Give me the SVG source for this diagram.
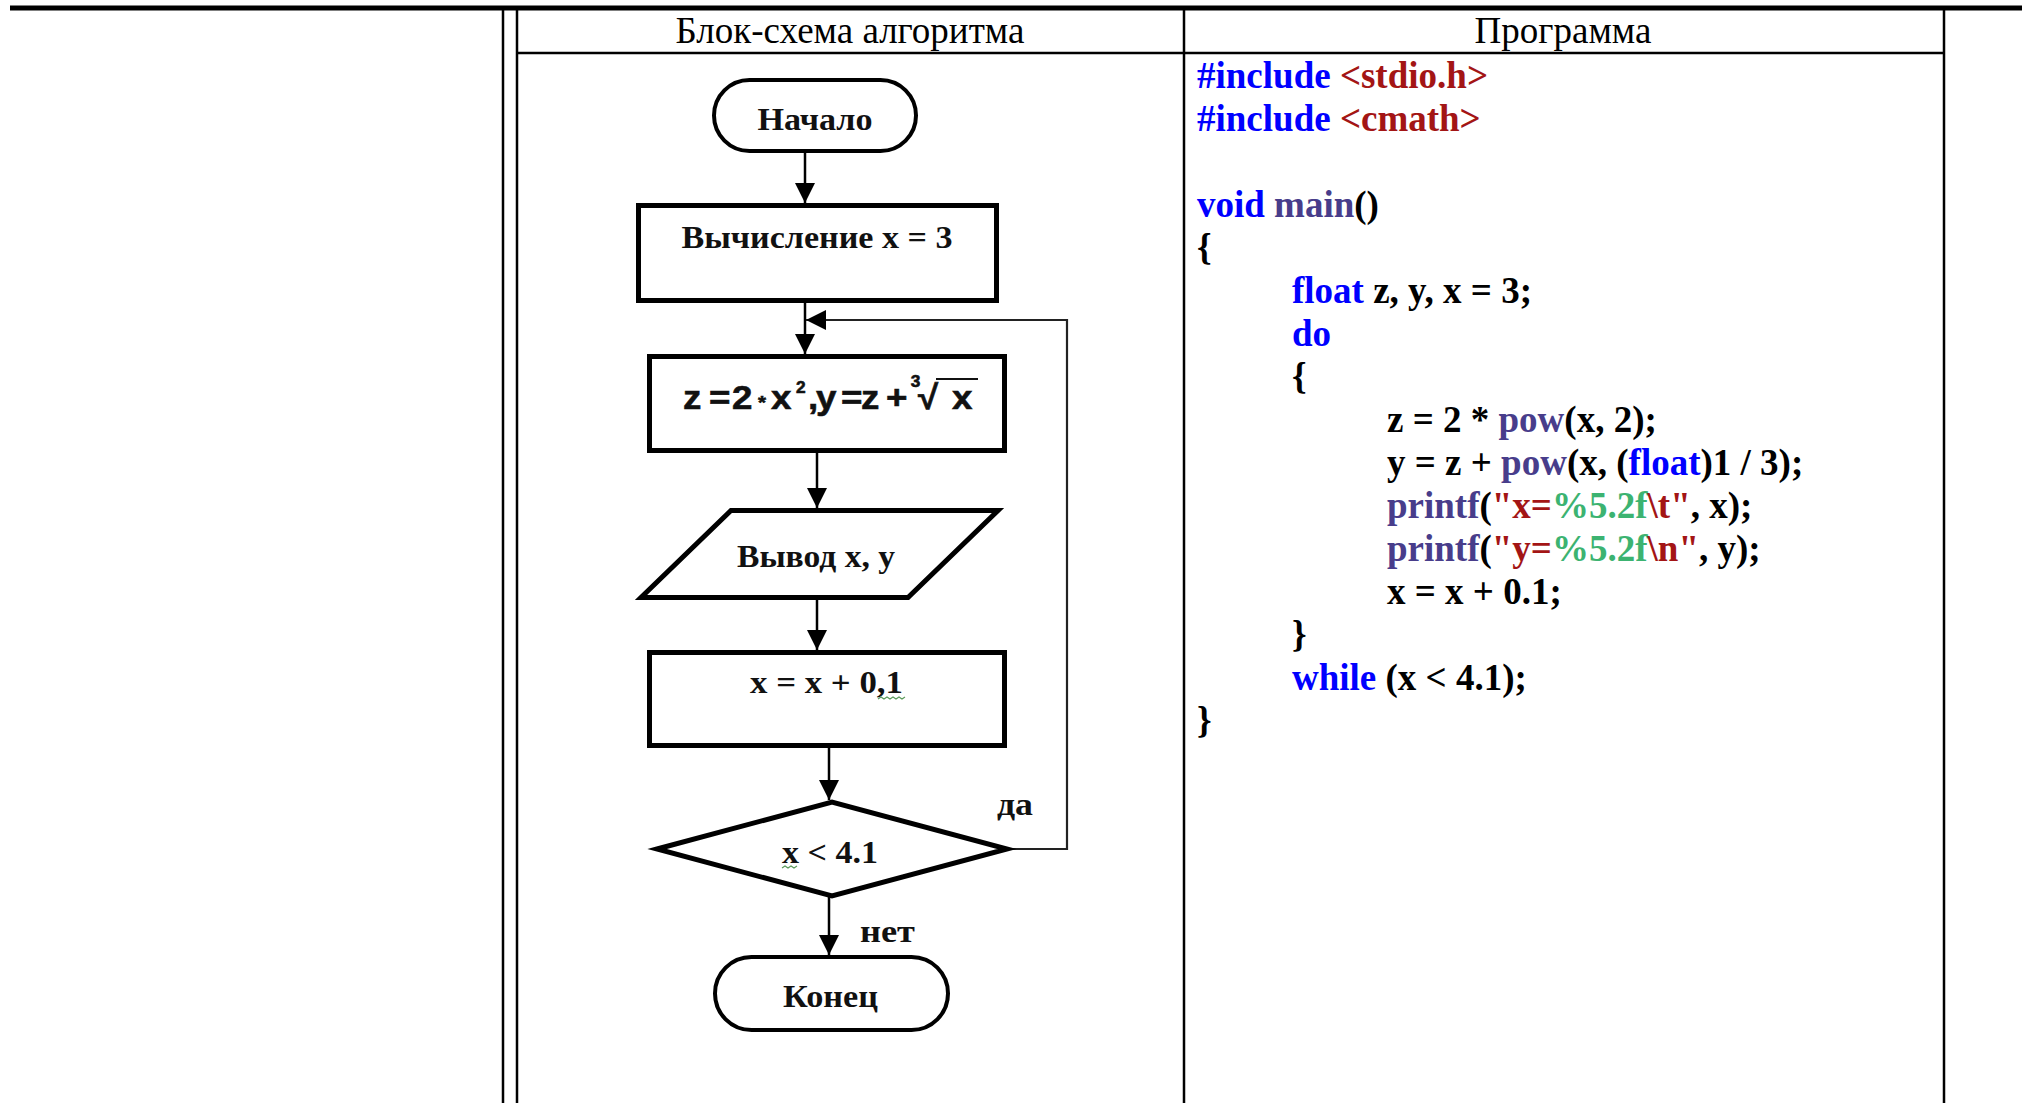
<svg xmlns="http://www.w3.org/2000/svg" width="2022" height="1103" viewBox="0 0 2022 1103">
<style>
.frame{stroke:#000;stroke-width:2.5;fill:none}
.hdr{font-family:"Liberation Serif",serif;font-size:37px;fill:#000;text-anchor:middle}
.code{font-family:"Liberation Serif",serif;font-weight:bold;font-size:37px;fill:#000}
.kw{fill:#0000FF}
.inc{fill:#A31515}
.fn{fill:#483D8B}
.str{fill:#A31515}
.fmt{fill:#3CB371}
.shape{fill:#fff;stroke:#000;stroke-width:5}
.term{fill:#fff;stroke:#000;stroke-width:4}
.lbl{font-family:"Liberation Serif",serif;font-weight:bold;font-size:31px;fill:#111}
.mid{text-anchor:middle}
.fx{font-family:"Liberation Sans",Arial,sans-serif;font-weight:bold;font-size:34px;fill:#111;stroke:#111;stroke-width:0.6}
.sup{font-size:16px}
.conn{stroke:#000;stroke-width:2.5;fill:none}
.fb{stroke:#222;stroke-width:2.2;fill:none}
.sq{stroke:#5a9a5a;stroke-width:1.2;fill:none}
</style>
<defs>
<marker id="ah" markerWidth="20" markerHeight="20" refX="20" refY="10" orient="auto" markerUnits="userSpaceOnUse">
<path d="M0,0 L20,10 L0,20 z" fill="#000"/>
</marker>
</defs>
<rect x="0" y="0" width="2022" height="1103" fill="#fff"/>

<g id="table">
<line x1="10" y1="8" x2="2022" y2="8" stroke="#000" stroke-width="5"/>
<line class="frame" x1="503" y1="8" x2="503" y2="1103"/>
<line class="frame" x1="517" y1="8" x2="517" y2="1103"/>
<line class="frame" x1="517" y1="53" x2="1944" y2="53"/>
<line class="frame" x1="1184" y1="8" x2="1184" y2="1103"/>
<line class="frame" x1="1944" y1="8" x2="1944" y2="1103"/>
<text class="hdr" x="850" y="43">Блок-схема алгоритма</text>
<text class="hdr" x="1563" y="43">Программа</text>
</g>

<g id="program" class="code">
<text x="1197" y="88"><tspan class="kw">#include</tspan> <tspan class="inc">&lt;stdio.h&gt;</tspan></text>
<text x="1197" y="131"><tspan class="kw">#include</tspan> <tspan class="inc">&lt;cmath&gt;</tspan></text>
<text x="1197" y="217"><tspan class="kw">void</tspan> <tspan class="fn">main</tspan>()</text>
<text x="1197" y="260">{</text>
<text x="1292" y="303"><tspan class="kw">float</tspan> z, y, x = 3;</text>
<text x="1292" y="346"><tspan class="kw">do</tspan></text>
<text x="1292" y="389">{</text>
<text x="1387" y="432">z = 2 * <tspan class="fn">pow</tspan>(x, 2);</text>
<text x="1387" y="475">y = z + <tspan class="fn">pow</tspan>(x, (<tspan class="kw">float</tspan>)1 / 3);</text>
<text x="1387" y="518"><tspan class="fn">printf</tspan>(<tspan class="str">"x=</tspan><tspan class="fmt">%5.2f</tspan><tspan class="str">\t"</tspan>, x);</text>
<text x="1387" y="561"><tspan class="fn">printf</tspan>(<tspan class="str">"y=</tspan><tspan class="fmt">%5.2f</tspan><tspan class="str">\n"</tspan>, y);</text>
<text x="1387" y="604">x = x + 0.1;</text>
<text x="1292" y="647">}</text>
<text x="1292" y="690"><tspan class="kw">while</tspan> (x &lt; 4.1);</text>
<text x="1197" y="733">}</text>
</g>

<g id="connectors">
<line class="conn" x1="805" y1="151" x2="805" y2="203" marker-end="url(#ah)"/>
<line class="conn" x1="805" y1="301" x2="805" y2="354" marker-end="url(#ah)"/>
<polyline class="fb" points="1008,849 1067,849 1067,320 806,320" marker-end="url(#ah)"/>
<line class="conn" x1="817" y1="451" x2="817" y2="508" marker-end="url(#ah)"/>
<line class="conn" x1="817" y1="598" x2="817" y2="650" marker-end="url(#ah)"/>
<line class="conn" x1="829" y1="746" x2="829" y2="800" marker-end="url(#ah)"/>
<line class="conn" x1="829" y1="896" x2="829" y2="955" marker-end="url(#ah)"/>
<text class="lbl" x="997" y="815" textLength="36" lengthAdjust="spacingAndGlyphs">да</text>
<text class="lbl" x="860" y="942" textLength="55" lengthAdjust="spacingAndGlyphs">нет</text>
</g>

<g id="start">
<rect class="term" x="714" y="80" width="202" height="71" rx="35.5"/>
<text class="lbl mid" x="815" y="130" textLength="115" lengthAdjust="spacingAndGlyphs">Начало</text>
</g>

<g id="init">
<rect class="shape" x="638.5" y="205.5" width="358" height="95"/>
<text class="lbl mid" x="817" y="248" textLength="271" lengthAdjust="spacingAndGlyphs">Вычисление x = 3</text>
</g>

<g id="calc">
<rect class="shape" x="649.5" y="356.5" width="355" height="94"/>
<g transform="translate(683,0) scale(1.08,1)">
<text class="fx" y="409"><tspan x="0">z</tspan><tspan x="24.1">=</tspan><tspan x="45.4">2</tspan><tspan x="69.4" font-size="19">*</tspan><tspan x="81.5">x</tspan><tspan x="104.6" y="393" class="sup">2</tspan><tspan x="115.7" y="409">,</tspan><tspan x="123.1">y</tspan><tspan x="146.3">=</tspan><tspan x="164.8">z</tspan><tspan x="188">+</tspan><tspan x="211" y="387" class="sup">3</tspan><tspan x="217.6" y="409">√</tspan><tspan x="249">x</tspan></text>
</g>
<line x1="936" y1="379" x2="978" y2="379" stroke="#111" stroke-width="2.2"/>
</g>

<g id="output">
<polygon class="shape" points="731,510.5 998,510.5 908,597.5 641,597.5"/>
<text class="lbl mid" x="816" y="567" textLength="158" lengthAdjust="spacingAndGlyphs">Вывод x, y</text>
</g>

<g id="step">
<rect class="shape" x="649.5" y="652.5" width="355" height="93"/>
<text class="lbl mid" x="826.5" y="693" textLength="153" lengthAdjust="spacingAndGlyphs">x = x + 0,1</text>
<polyline class="sq" points="878,699 881,697 884,699 887,697 890,699 893,697 896,699 899,697 902,699 905,697"/>
</g>

<g id="cond">
<polygon class="shape" points="657,849 832,802 1007,849 832,896"/>
<text class="lbl mid" x="830" y="863" textLength="96" lengthAdjust="spacingAndGlyphs">x &lt; 4.1</text>
<polyline class="sq" points="782,868 785,866 788,868 791,866 794,868 797,866"/>
</g>

<g id="end">
<rect class="term" x="715" y="957" width="233" height="73" rx="36.5"/>
<text class="lbl mid" x="830.5" y="1007" textLength="95" lengthAdjust="spacingAndGlyphs">Конец</text>
</g>
</svg>
